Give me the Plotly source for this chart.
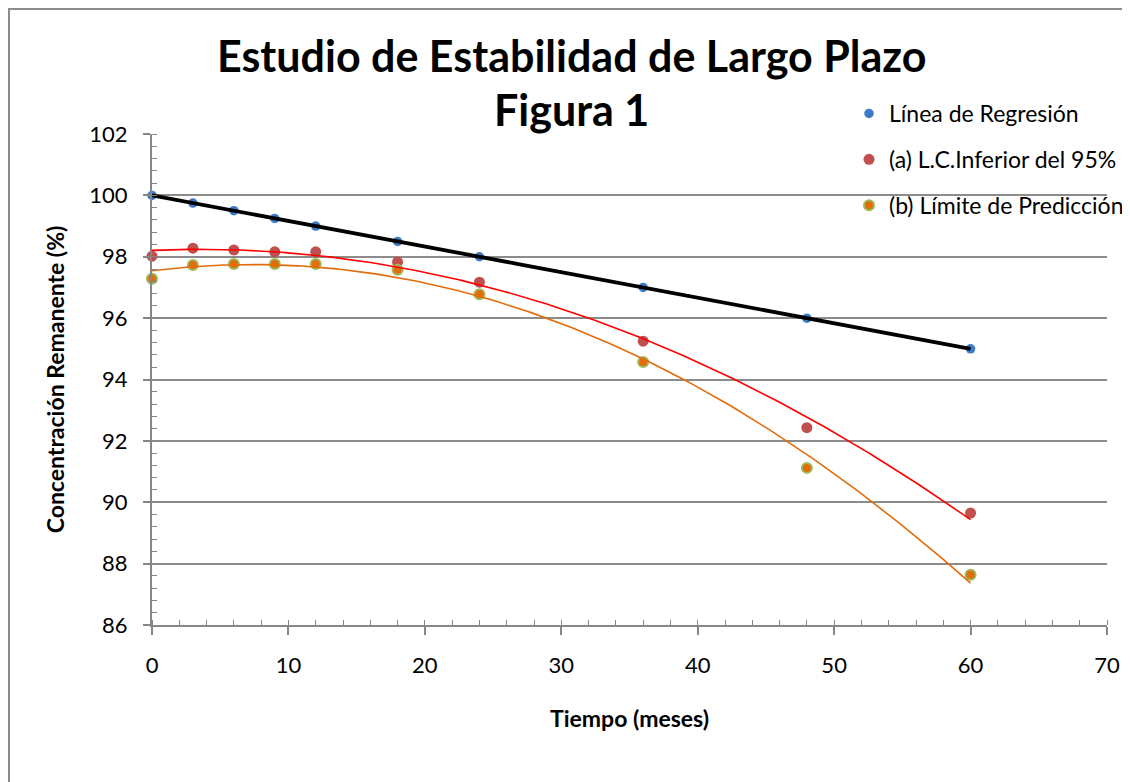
import numpy as np
import plotly.graph_objects as go

# ---- data ----
meses = [0, 3, 6, 9, 12, 18, 24, 36, 48, 60]
regresion = [100.0, 99.75, 99.5, 99.25, 99.0, 98.5, 98.0, 97.0, 96.0, 95.0]
lc_inferior = [98.02, 98.28, 98.22, 98.16, 98.16, 97.83, 97.17, 95.25, 92.43, 89.65]
lim_prediccion = [97.28, 97.73, 97.76, 97.76, 97.76, 97.58, 96.78, 94.57, 91.12, 87.64]

names = ["Línea de Regresión", "(a) L.C.Inferior del 95%", "(b) Límite de Predicción"]
x_ticks = [0, 10, 20, 30, 40, 50, 60, 70]
y_ticks = [86, 88, 90, 92, 94, 96, 98, 100, 102]

FONT = "Lato"
OFF = 8  # page body margin
W, H = 1130 - OFF, 782 - OFF
L, T = 152 - OFF, 134 - OFF
R = W - (1107 - OFF)
B = H - (625 - OFF)
PW, PH = W - L - R, H - T - B


def px2paper(px, py):
    """screen pixel -> paper coords"""
    fx, fy = px - OFF, py - OFF
    return (fx - L) / PW, (H - B - fy) / PH


x = np.array(meses, dtype=float)
xs = np.linspace(0, 60, 241)
lin = np.polyval(np.polyfit(x, regresion, 1), xs)
red_fit = np.polyval(np.polyfit(x, lc_inferior, 2), xs)
org_fit = np.polyval(np.polyfit(x, lim_prediccion, 2), xs)

fig = go.Figure()

# data markers
fig.add_trace(go.Scatter(x=meses, y=regresion, mode="markers", name=names[0],
                         marker=dict(size=9.5, color="#3D7CC9"), cliponaxis=False,
                         legendgroup="a"))
fig.add_trace(go.Scatter(x=meses, y=lc_inferior, mode="markers", name=names[1],
                         marker=dict(size=11, color="#C0504D"), cliponaxis=False,
                         legendgroup="b"))
fig.add_trace(go.Scatter(x=meses, y=lim_prediccion, mode="markers", name=names[2],
                         marker=dict(size=10, color="#E46C0A",
                                     line=dict(color="#9BBB59", width=2)),
                         cliponaxis=False, legendgroup="c"))

# trend lines
fig.add_trace(go.Scatter(x=xs, y=lin, mode="lines", line=dict(color="black", width=3.8),
                         showlegend=False, hoverinfo="skip", cliponaxis=False))
fig.add_trace(go.Scatter(x=xs, y=red_fit, mode="lines", line=dict(color="#FF0000", width=1.6),
                         showlegend=False, hoverinfo="skip", cliponaxis=False))
fig.add_trace(go.Scatter(x=xs, y=org_fit, mode="lines", line=dict(color="#E36C0A", width=1.6),
                         showlegend=False, hoverinfo="skip", cliponaxis=False))

axcol = "#868686"
fig.update_xaxes(range=[0, 70], tickvals=x_ticks, ticks="outside", ticklen=8,
                 tickwidth=1.5, tickcolor=axcol, showline=True, linecolor=axcol,
                 linewidth=2, showgrid=False, zeroline=False,
                 tickfont=dict(family=FONT, size=22, color="black"),
                 ticklabelstandoff=12,
                 minor=dict(dtick=2, ticks="inside", ticklen=5, tickwidth=1.2,
                            tickcolor=axcol, showgrid=False),
                 title=dict(text="<b>Tiempo (meses)</b>", standoff=33,
                            font=dict(family=FONT, size=23, color="black")))
fig.update_yaxes(range=[86, 102], tickvals=y_ticks, ticks="outside", ticklen=7,
                 tickwidth=1.5, tickcolor=axcol, showline=True, linecolor=axcol,
                 linewidth=2, showgrid=True, gridcolor="#8C8C8C", gridwidth=1.5,
                 zeroline=False, tickfont=dict(family=FONT, size=22, color="black"),
                 ticklabelstandoff=11,
                 minor=dict(dtick=0.4, ticks="inside", ticklen=5, tickwidth=1.2,
                            tickcolor=axcol, showgrid=False),
                 title=dict(text="<b>Concentración Remanente (%)</b>", standoff=18,
                            font=dict(family=FONT, size=23, color="black")))

# outer frame
x0, y0 = px2paper(OFF + 1, OFF + 1)
x1, y1 = px2paper(1145, 800)
fig.add_shape(type="rect", xref="paper", yref="paper", x0=x0, y0=y1, x1=x1, y1=y0,
              line=dict(color="#8C8C8C", width=2), layer="below")

# title lines
tx, ty1 = px2paper(571, 55)
_, ty2 = px2paper(571, 110)
fig.add_annotation(text="<b>Estudio de Estabilidad de Largo Plazo</b>", xref="paper",
                   yref="paper", x=tx, y=ty1, showarrow=False, xanchor="center",
                   yanchor="middle", font=dict(family=FONT, size=43, color="black"))
fig.add_annotation(text="<b>Figura 1</b>", xref="paper", yref="paper", x=tx, y=ty2,
                   showarrow=False, xanchor="center", yanchor="middle",
                   font=dict(family=FONT, size=43, color="black"))

lx, ly = px2paper(849, 92)
fig.update_layout(
    width=W, height=H,
    margin=dict(l=L, r=R, t=T, b=B, autoexpand=False),
    paper_bgcolor="white", plot_bgcolor="white",
    showlegend=True,
    legend=dict(x=lx, y=ly, xanchor="left", yanchor="top", bgcolor="rgba(0,0,0,0)",
                font=dict(family=FONT, size=23, color="black"), itemwidth=30,
                traceorder="grouped", tracegroupgap=13),
)

fig.write_html("out.html")
